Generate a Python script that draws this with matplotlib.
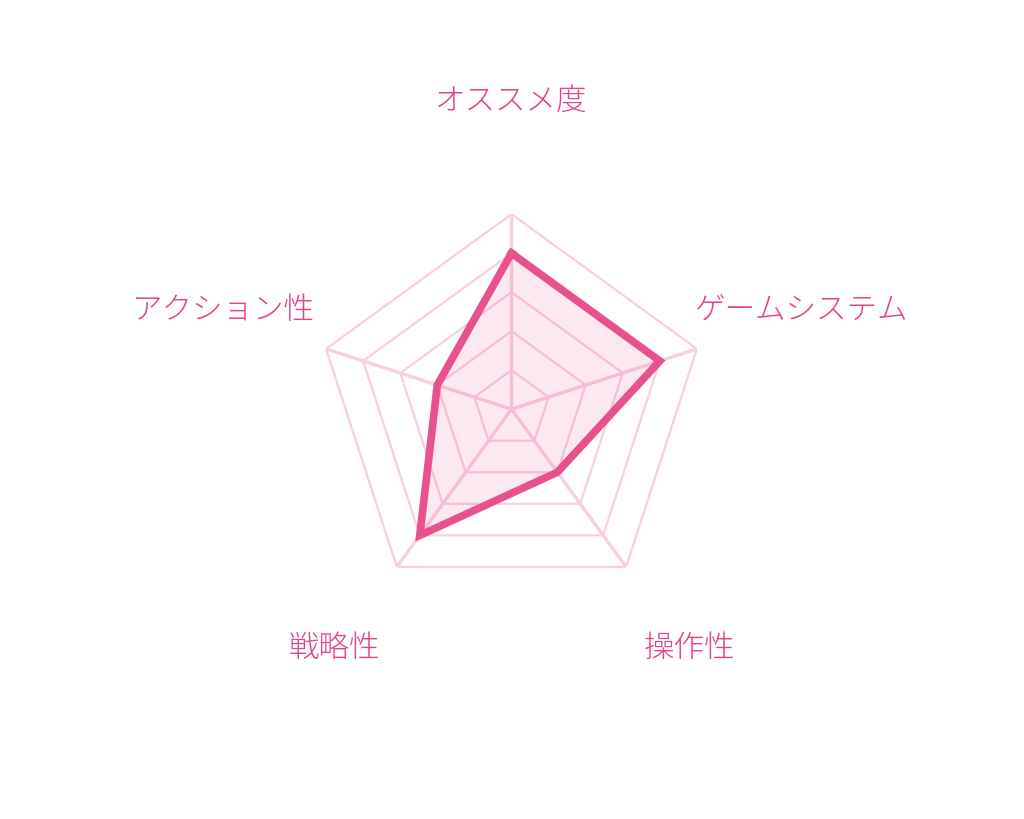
import numpy as np
import matplotlib
matplotlib.use("Agg")
import matplotlib.pyplot as plt

plt.rcParams['font.family'] = ['Noto Sans CJK JP', 'DejaVu Sans']

# 項目と評価 (5段階)
labels = ["オススメ度", "ゲームシステム", "操作性", "戦略性", "アクション性"]
values = [4, 4, 2, 4, 2]
levels = [1, 2, 3, 4, 5]

line_color = "#e8508f"
grid_color = "#f8cfe0"
text_color = "#e2438b"

fig = plt.figure(figsize=(10.24, 8.2), dpi=100)
ax = fig.add_axes([0.309, 0.262, 0.381, 0.4756], projection="polar")
ax.set_theta_offset(np.pi / 2)
ax.set_theta_direction(-1)

n = len(labels)
angles = np.linspace(0, 2 * np.pi, n, endpoint=False)
closed = np.append(angles, angles[0])

# 五角形のグリッド
for lv in levels:
    ax.plot(closed, [lv] * (n + 1), color=grid_color, lw=1.6, zorder=1)
for a in angles:
    ax.plot([a, a], [0, levels[-1]], color=grid_color, lw=2.4, zorder=1)

vals = values + values[:1]
ax.fill(closed, vals, color=line_color, alpha=0.13, zorder=2)
ax.plot(closed, vals, color=line_color, lw=5.5, zorder=3, solid_joinstyle="miter")

ax.set_ylim(0, 5)
ax.grid(False)
ax.spines["polar"].set_visible(False)
ax.set_xticks([])
ax.set_yticks([])
ax.patch.set_alpha(0)

label_r = [8.0, 7.8, 7.6, 7.6, 7.8]
label_shift = [(0, -3), (0, 6), (4, 2), (-3, 2), (0, 6)]
for a, lab, r, sh in zip(angles, labels, label_r, label_shift):
    ax.annotate(lab, xy=(a, r), xytext=sh, textcoords="offset pixels",
                ha="center", va="center", fontsize=22,
                color=text_color, fontweight="light", annotation_clip=False)

fig.savefig("out.png", dpi=100)
